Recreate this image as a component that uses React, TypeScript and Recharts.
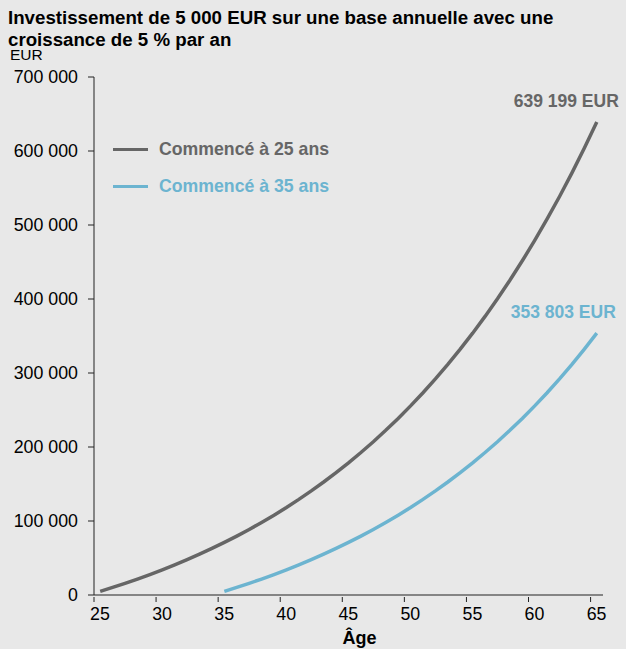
import React from 'react';
import { LineChart, Line, XAxis, YAxis } from 'recharts';

// Âges (axe des x)
const ages = [
  25, 26, 27, 28, 29, 30, 31, 32, 33, 34, 35, 36, 37, 38, 39, 40, 41, 42, 43, 44, 45,
  46, 47, 48, 49, 50, 51, 52, 53, 54, 55, 56, 57, 58, 59, 60, 61, 62, 63, 64, 65,
];

// Capital accumulé, commencé à 25 ans
const start25 = [
  5000, 10250, 15763, 21551, 27628, 34010, 40710, 47746, 55133, 62889, 71034,
  79586, 88565, 97993, 107893, 118287, 129202, 140662, 152695, 165330, 178596,
  192526, 207152, 222510, 238635, 255567, 273346, 292013, 311614, 332194, 353804,
  376494, 400319, 425335, 451602, 479182, 508141, 538548, 570475, 603999, 639199,
];

// Capital accumulé, commencé à 35 ans (à partir de l'âge 35)
const start35 = [
  5000, 10250, 15763, 21551, 27628, 34010, 40710, 47746, 55133, 62889, 71034,
  79586, 88565, 97993, 107893, 118287, 129202, 140662, 152695, 165330, 178596,
  192526, 207152, 222510, 238635, 255567, 273346, 292013, 311614, 332194, 353803,
];

const series = [
  { key: 's25', name: 'Commencé à 25 ans', end: '639 199 EUR' },
  { key: 's35', name: 'Commencé à 35 ans', end: '353 803 EUR' },
];

const titleLines = ['Investissement de 5 000 EUR sur une base annuelle avec une', 'croissance de 5 % par an'];

const xTicks = [24.5, 29.5, 34.5, 39.5, 44.5, 49.5, 54.5, 59.5, 64.5];
const yTicks = [0, 100000, 200000, 300000, 400000, 500000, 600000, 700000];

const GREY = '#666666';
const BLUE = '#6cb4d0';
const FONT = '"Liberation Sans", Arial, sans-serif';

const data = ages.map((age, i) => ({
  age,
  s25: start25[i],
  s35: i >= 10 ? start35[i - 10] : null,
}));

const fmt = (v: number) => String(v).replace(/\B(?=(\d{3})+(?!\d))/g, ' ');

// tick marks sit on year boundaries, labels on the year itself
const AgeTick = (props: any) => {
  const { x, y, payload } = props;
  return (
    <g>
      <line x1={x} y1={y - 6} x2={x} y2={y - 1} stroke="#222" strokeWidth={1} />
      <text x={x + 6} y={y + 17} textAnchor="middle" fontSize={17.8} fill="#000" fontFamily={FONT}>
        {Math.round(payload.value + 0.5)}
      </text>
    </g>
  );
};

const endLabel = (text: string, color: string, dx: number, dy: number) => (props: any) => {
  const { x, y, index } = props;
  if (index !== ages.length - 1) return null;
  return (
    <text x={x + dx} y={y + dy} textAnchor="end" fontSize={17.5} fontWeight="bold" fill={color} fontFamily={FONT}>
      {text}
    </text>
  );
};

export default function App() {
  const colors = [GREY, BLUE];
  return (
    <div
      style={{
        position: 'absolute',
        left: 0,
        top: 0,
        width: 626,
        height: 649,
        background: '#e8e8e8',
        fontFamily: FONT,
        overflow: 'hidden',
      }}
    >
      <div style={{ position: 'absolute', left: 0, top: 0 }}>
        <LineChart width={626} height={649} data={data} margin={{ top: 77, right: 23, left: 0, bottom: 24 }}>
          <XAxis
            dataKey="age"
            type="number"
            domain={[24.5, 65.5]}
            ticks={xTicks}
            interval={0}
            tick={<AgeTick />}
            tickLine={false}
            height={30}
            stroke="#222"
            label={{ value: 'Âge', position: 'insideBottom', dx: 11, dy: 24, fontSize: 18, fontWeight: 'bold', fill: '#000', fontFamily: FONT }}
          />
          <YAxis
            type="number"
            domain={[0, 700000]}
            ticks={yTicks}
            interval={0}
            width={94}
            tickSize={6}
            tickMargin={10}
            tickFormatter={fmt}
            stroke="#222"
            tick={{ fontSize: 17.8, fill: '#000', fontFamily: FONT }}
          />
          <Line
            dataKey="s25"
            name={series[0].name}
            stroke={GREY}
            strokeWidth={3.5}
            dot={false}
            isAnimationActive={false}
            label={endLabel(series[0].end, GREY, 22, -15)}
          />
          <Line
            dataKey="s35"
            name={series[1].name}
            stroke={BLUE}
            strokeWidth={3.5}
            dot={false}
            isAnimationActive={false}
            label={endLabel(series[1].end, BLUE, 19, -15)}
          />
        </LineChart>
      </div>
      {titleLines.map((t, i) => (
        <div
          key={t}
          style={{ position: 'absolute', left: 8, top: 9 + i * 22, fontSize: 18.7, fontWeight: 'bold', lineHeight: '18px', color: '#000', whiteSpace: 'nowrap' }}
        >
          {t}
        </div>
      ))}
      <div style={{ position: 'absolute', left: 10, top: 49, fontSize: 15.5, lineHeight: '12px', color: '#000' }}>EUR</div>
      <div style={{ position: 'absolute', left: 113, top: 131, fontWeight: 'bold', fontSize: 17.7 }}>
        {series.map((s, i) => (
          <div key={s.key} style={{ display: 'flex', alignItems: 'center', height: 37, color: colors[i] }}>
            <span style={{ display: 'inline-block', width: 35, height: 3.5, background: colors[i], marginRight: 11 }} />
            {s.name}
          </div>
        ))}
      </div>
    </div>
  );
}
